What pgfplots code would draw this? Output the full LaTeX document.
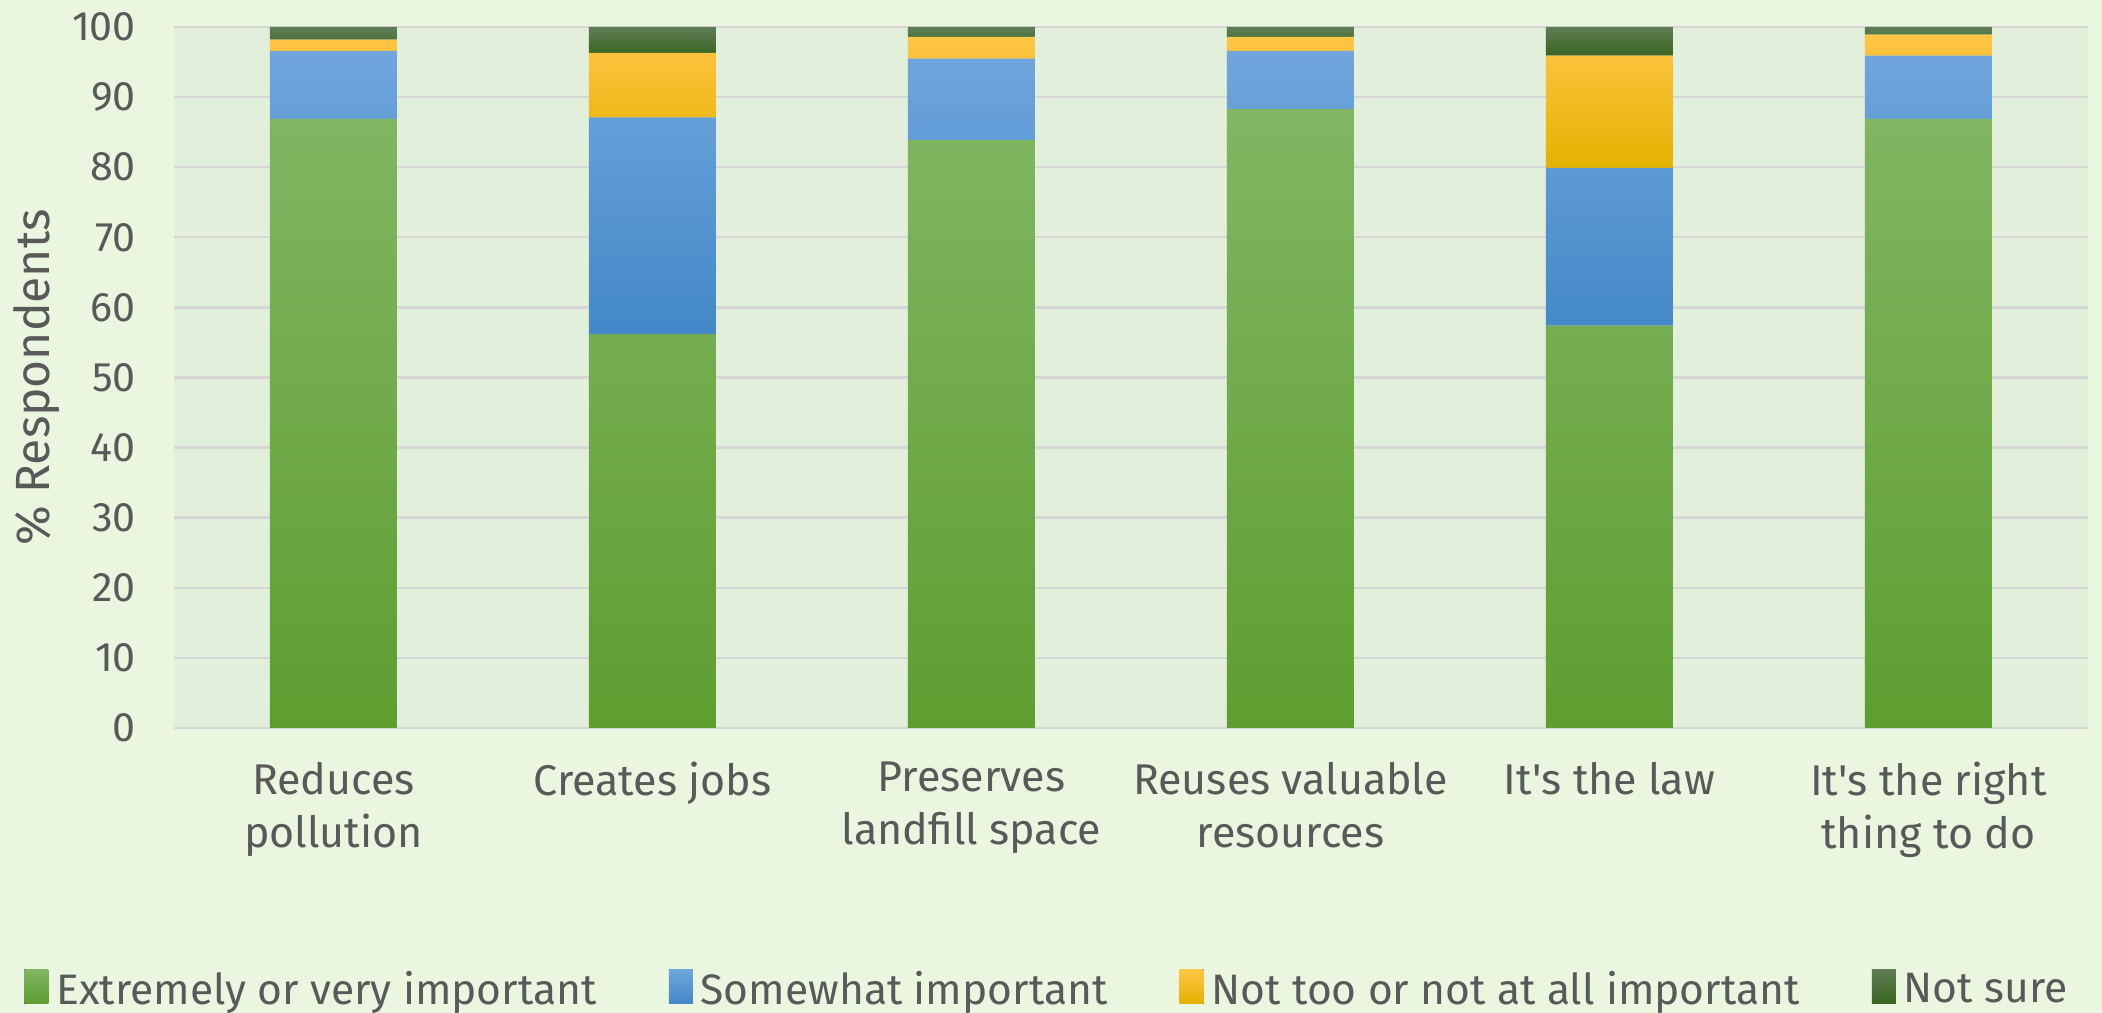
\documentclass[border=0pt]{standalone}
\usepackage{fontspec}
\setmainfont{Fira Sans}
\usepackage{pgfplots}
\pgfplotsset{compat=1.18}
\definecolor{outerbg}{HTML}{EBF6E0}
\definecolor{plotbg}{HTML}{E2EFDA}
\definecolor{gridgray}{HTML}{D6D6D6}
\definecolor{txt}{HTML}{595959}
\definecolor{gTop}{HTML}{82B663}
\definecolor{gBot}{HTML}{5E9E30}
\definecolor{bTop}{HTML}{70A6DD}
\definecolor{bBot}{HTML}{4388C8}
\definecolor{yTop}{HTML}{FFC546}
\definecolor{yBot}{HTML}{E3B200}
\definecolor{dTop}{HTML}{5E7D55}
\definecolor{dBot}{HTML}{3A6420}
\begin{document}
\begin{tikzpicture}
\fill[outerbg] (-43.5pt,-71.25pt) rectangle (482pt,182pt);
\path[use as bounding box] (-43.5pt,-71.25pt) rectangle (482pt,182pt);
\begin{axis}[
  at={(0,0)}, anchor=south west,
  scale only axis, width=478.5pt, height=175.25pt,
  ybar stacked, bar width=31.75pt,
  xmin=-0.5, xmax=5.5, ymin=0, ymax=100,
  xtick={0,1,2,3,4,5},
  xticklabels={{Reduces\\pollution},{Creates jobs},{Preserves\\landfill space},{Reuses valuable\\resources},{It\textquotesingle s the law},{It\textquotesingle s the right\\thing to do}},
  ytick={0,10,20,30,40,50,60,70,80,90,100},
  /pgf/number format/assume math mode=true,
  axis background/.style={fill=plotbg},
  axis line style={draw=none},
  tick style={draw=none},
  ymajorgrids, grid style={gridgray, line width=0.6pt},
  yticklabel style={font=\fontsize{10.3pt}{12.4pt}\selectfont, text=txt, xshift=-6pt},
  xticklabel style={font=\fontsize{10.75pt}{13.2pt}\selectfont, text=txt, align=center, yshift=-5pt},
  ylabel={\% Respondents},
  ylabel style={at={(axis description cs:-0.0716,0.5)}, anchor=center, font=\fontsize{12pt}{14pt}\selectfont, text=txt},
  legend columns=4,
  legend style={at={(axis description cs:0.4577,-0.375)}, anchor=center, draw=none, fill=none,
    font=\fontsize{10.65pt}{12pt}\selectfont, text=txt,
    /tikz/every even column/.append style={column sep=16pt}},
  legend image code/.code={\fill[#1] (0pt,-0.6ex) rectangle (6pt,5.4pt);},
  every axis plot/.append style={draw=none},
]
\addplot[top color=gTop, bottom color=gBot] coordinates {(0,86.9) (1,56.2) (2,83.9) (3,88.3) (4,57.4) (5,86.9)};
\addplot[top color=bTop, bottom color=bBot] coordinates {(0,9.7) (1,30.9) (2,11.6) (3,8.3) (4,22.5) (5,9.0)};
\addplot[top color=yTop, bottom color=yBot] coordinates {(0,1.6) (1,9.2) (2,3.1) (3,2.0) (4,16.0) (5,3.0)};
\addplot[top color=dTop, bottom color=dBot] coordinates {(0,1.8) (1,3.7) (2,1.4) (3,1.4) (4,4.1) (5,1.1)};
\legend{Extremely or very important, Somewhat important, Not too or not at all important, Not sure}
\end{axis}
\end{tikzpicture}
\end{document}
